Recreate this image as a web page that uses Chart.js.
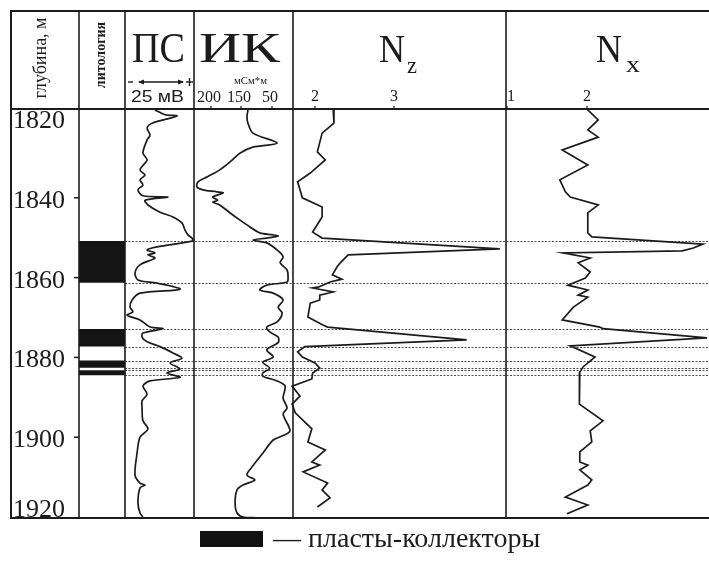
<!DOCTYPE html>
<html>
<head>
<meta charset="utf-8">
<title>Каротаж 1820–1920 м</title>
<script src="https://cdn.jsdelivr.net/npm/chart.js@4.4.1/dist/chart.umd.min.js"></script>
<style>
  html, body { margin: 0; padding: 0; background: #fff; }
  canvas { display: block; }
</style>
</head>
<body>
<canvas id="log" width="709" height="564"></canvas>
<script>
// ---- data -------------------------------------------------------------
// depth ticks, m
const depthTicks = [1820, 1840, 1860, 1880, 1900, 1920];

// collector beds (top / bottom depth, m)
const collectorTop    = [1850.8, 1872.9, 1880.8, 1883.2];
const collectorBottom = [1861.3, 1877.3, 1882.6, 1884.5];

// ПС (spontaneous potential), mV relative to track left edge
const psDepth = [1818.0,1819.2,1819.5,1821.3,1822.5,1824.3,1825.5,1828.8,1830.5,1833.0,1834.3,1835.5,1836.8,1838.0,1839.5,1839.8,1840.6,1841.8,1843.6,1844.8,1846.3,1848.1,1849.3,1850.1,1850.8,1852.3,1853.1,1853.8,1854.3,1855.1,1856.8,1858.8,1860.6,1861.4,1862.9,1863.9,1865.6,1867.4,1868.6,1869.4,1870.6,1872.4,1872.8,1873.9,1874.9,1876.1,1877.3,1878.9,1880.2,1881.4,1882.9,1883.9,1885.0,1885.9,1887.2,1889.2,1890.9,1892.7,1895.9,1897.9,1900.0,1904.0,1909.5,1911.5,1912.0,1912.7,1916.5,1919.0,1920.0];
const psMv    = [17.4,23.2,30.1,15.7,12.8,14.5,12.8,10.4,12.8,8.7,11.6,8.7,10.4,7.5,10.4,24.9,11.6,13.3,20.3,27.8,33.0,34.8,36.5,38.8,39.4,18.6,12.8,17.4,13.3,17.4,8.7,5.8,7.5,18.6,31.9,8.7,4.1,2.9,4.6,1.2,8.7,14.5,22.0,10.4,9.9,12.8,20.3,27.8,33.0,26.1,31.9,24.3,31.9,14.5,10.4,12.8,9.9,9.9,10.4,13.3,8.7,7.0,5.8,8.7,11.6,8.7,7.5,8.7,10.4];

// ИК (induction conductivity), mSm/m
const ikDepth = [1818.0,1819.7,1821.3,1823.8,1826.3,1827.3,1828.8,1831.0,1833.0,1834.8,1836.0,1837.3,1838.0,1838.5,1838.8,1839.8,1840.6,1841.1,1841.8,1843.8,1845.6,1847.3,1848.8,1849.3,1849.6,1850.1,1850.6,1851.3,1853.1,1854.8,1856.3,1858.1,1859.8,1861.1,1861.9,1863.1,1863.9,1865.6,1867.4,1868.9,1871.1,1872.4,1873.6,1874.9,1876.3,1878.1,1879.9,1881.2,1882.7,1883.9,1884.7,1885.9,1887.2,1890.2,1892.7,1894.2,1898.4,1899.6,1900.7,1904.0,1907.5,1909.5,1910.7,1912.0,1913.2,1916.5,1919.0,1920.0,1920.2];
const ikValue = [121,123,121,111,62,111,137,157,178,204,222,224,212,184,171,192,182,192,178,157,137,117,97,70,60,83,111,83,62,50,56,42,40,42,83,97,70,50,60,52,62,83,77,60,60,83,70,91,77,91,91,62,46,50,42,50,36,50,70,91,113,123,107,131,143,147,143,131,103];

// Nz
const nzDepth = [1817.8,1821.3,1823.8,1828.5,1830.5,1833.8,1836.0,1838.0,1840.0,1842.3,1844.8,1848.6,1850.1,1852.8,1854.3,1856.3,1857.3,1859.3,1860.4,1861.1,1862.4,1862.6,1863.6,1864.4,1865.6,1866.4,1869.9,1871.9,1872.4,1875.6,1877.3,1878.6,1879.9,1881.4,1882.7,1883.9,1885.4,1887.2,1889.7,1891.7,1893.9,1897.9,1901.2,1903.2,1906.2,1907.0,1908.7,1911.5,1913.2,1915.2,1917.5];
const nzValue = [2.23,2.24,2.09,2.03,2.13,1.94,1.78,1.81,1.84,2.09,2.09,1.97,2.09,4.34,2.42,2.32,2.28,2.22,2.34,2.19,2.04,1.97,2.23,2.06,2.06,1.94,1.91,2.10,2.16,3.92,1.87,1.78,1.84,2.00,2.06,1.97,1.96,1.71,1.81,1.71,1.75,1.96,1.91,2.13,1.96,2.06,1.85,2.16,2.09,2.19,2.03];

// Nx
const nxDepth = [1817.8,1820.5,1823.0,1824.8,1828.0,1831.8,1835.5,1838.5,1839.8,1841.8,1843.8,1848.8,1849.8,1851.6,1852.6,1853.3,1853.8,1855.1,1856.3,1858.6,1860.1,1861.9,1863.1,1864.4,1864.9,1867.4,1870.6,1872.4,1872.8,1875.1,1877.1,1879.9,1882.4,1883.7,1885.2,1891.7,1895.9,1898.4,1901.2,1903.7,1906.2,1907.0,1908.2,1910.7,1912.0,1915.0,1917.0,1919.2];
const nxValue = [2.00,2.14,2.01,2.14,1.69,2.01,1.66,1.73,1.79,2.14,2.01,2.01,2.06,3.45,3.33,3.19,1.70,2.04,1.89,2.04,1.98,1.76,2.01,1.89,2.01,1.83,1.69,2.16,2.20,3.50,1.79,2.10,1.95,1.91,1.91,1.90,2.20,2.04,2.06,1.91,1.91,2.01,1.91,2.06,2.01,1.73,2.01,1.75];

// header tick labels
const ikTickLabels = ['200', '150', '50'];
const nzTicks = [2, 3];
const nxTicks = [1, 2];

// ---- layout -----------------------------------------------------------
const ink = '#1c1c1c';
const L = {
  top: 11, head: 109, bottom: 518, left: 11, right: 709,
  cols: [79, 125, 194, 293, 506],
  ikLabelX: [209, 239, 270]
};
const depthMin = 1817.75, depthMax = 1920.25;

// each track maps two reference values (v0, v1) onto two pixel columns (p0, p1)
const tracks = {
  lith: { p0: 79,  v0: 0,   p1: 125, v1: 1 },
  ps:   { p0: 125, v0: 0,   p1: 194, v1: 40 },
  ik:   { p0: 194, v0: 230, p1: 293, v1: 30 },
  nz:   { p0: 315, v0: 2,   p1: 394, v1: 3 },
  nx:   { p0: 507, v0: 1,   p1: 587, v1: 2 }
};
function trackScale(t) {
  const k = (t.v1 - t.v0) / (t.p1 - t.p0);
  const a = t.v0 - (t.p0 - 0) * k;
  const b = t.v0 + (709 - t.p0) * k;
  return { type: 'linear', axis: 'x', position: 'bottom', display: false,
           reverse: k < 0, min: Math.min(a, b), max: Math.max(a, b) };
}

const series = (depths, values) => depths.map((d, i) => ({ x: values[i], y: d }));

const datasets = [];
collectorTop.forEach((top, i) => {
  datasets.push({
    xAxisID: 'lith', yAxisID: 'y', showLine: true,
    data: [{ x: 0, y: collectorBottom[i] }, { x: 1, y: collectorBottom[i] }],
    borderColor: 'rgba(0,0,0,0)', borderWidth: 1, pointRadius: 0,
    fill: { value: top }, backgroundColor: '#141414'
  });
});
const curve = (id, data, tension) => ({
  xAxisID: id, yAxisID: 'y', showLine: true, data, fill: false,
  borderColor: ink, borderWidth: 1.7, pointRadius: 0, tension
});
datasets.push(curve('ps', series(psDepth, psMv), 0.3));
datasets.push(curve('ik', series(ikDepth, ikValue), 0.3));
datasets.push(curve('nz', series(nzDepth, nzValue), 0));
datasets.push(curve('nx', series(nxDepth, nxValue), 0));

// ---- drawing helpers ----------------------------------------------------
function seg(c, x1, y1, x2, y2) { c.beginPath(); c.moveTo(x1, y1); c.lineTo(x2, y2); c.stroke(); }
function fitText(c, str, x, y, font, width) {
  c.save();
  c.font = font;
  const w = c.measureText(str).width;
  c.translate(x, y);
  if (width) c.scale(width / w, 1);
  c.textAlign = 'left';
  c.fillText(str, 0, 0);
  c.restore();
}
function vText(c, str, cx, cy, font) {
  c.save();
  c.font = font;
  c.translate(cx, cy);
  c.rotate(-Math.PI / 2);
  c.textAlign = 'center';
  c.textBaseline = 'middle';
  c.fillText(str, 0, 0);
  c.restore();
}

const logFrame = {
  id: 'logFrame',
  beforeDraw(chart) {
    const c = chart.ctx;
    c.save(); c.fillStyle = '#fff'; c.fillRect(0, 0, chart.width, chart.height); c.restore();
  },
  beforeDatasetsDraw(chart) {
    const c = chart.ctx, y = chart.scales.y;
    c.save();
    c.strokeStyle = '#4d4d4d'; c.lineWidth = 1; c.setLineDash([2, 1.5]);
    collectorTop.concat(collectorBottom).forEach(d => {
      const py = Math.round(y.getPixelForValue(d)) + 0.5;
      seg(c, L.cols[1], py, L.right, py);
    });
    c.restore();
  },
  afterDraw(chart) {
    const c = chart.ctx, y = chart.scales.y;
    c.save();
    c.strokeStyle = ink; c.fillStyle = ink;

    // table frame
    c.lineWidth = 2;
    seg(c, L.left, L.top, L.right, L.top);
    seg(c, L.left, L.head, L.right, L.head);
    seg(c, L.left - 1, L.bottom, L.right, L.bottom);
    seg(c, L.left, L.top - 1, L.left, L.bottom + 1);
    c.lineWidth = 1.6;
    L.cols.forEach(x => seg(c, x, L.top, x, L.bottom));

    // depth labels and ticks
    c.lineWidth = 1.5;
    c.textBaseline = 'alphabetic';
    depthTicks.forEach((d, i) => {
      const py = y.getPixelForValue(d);
      fitText(c, String(d), 13, Math.min(py + 10, L.bottom - 1), '26px "Liberation Serif"');
      if (i > 0 && i < depthTicks.length - 1) seg(c, 74, py, L.cols[0], py);
    });

    // column titles
    vText(c, 'глубина, м', 41, 58, '18px "Liberation Serif"');
    vText(c, 'литология', 101, 55, 'bold 14px "Liberation Serif"');
    fitText(c, 'ПС', 132, 62, '42px "Liberation Serif"', 53);
    fitText(c, 'ИК', 199, 62, '42px "Liberation Serif"', 81);
    fitText(c, 'N', 379, 62, '40px "Liberation Serif"', 26);
    fitText(c, 'z', 407, 73, '24px "Liberation Serif"', 10);
    fitText(c, 'N', 596, 62, '40px "Liberation Serif"', 26);
    fitText(c, 'x', 626, 72, '24px "Liberation Serif"', 14);

    // ПС scale bar
    c.lineWidth = 1.4;
    seg(c, 128, 82, 133, 82);
    seg(c, 139, 82, 183, 82);
    c.beginPath(); c.moveTo(138, 82); c.lineTo(144, 79.5); c.lineTo(144, 84.5); c.closePath(); c.fill();
    c.beginPath(); c.moveTo(184, 82); c.lineTo(178, 79.5); c.lineTo(178, 84.5); c.closePath(); c.fill();
    seg(c, 186, 82, 193, 82);
    seg(c, 189.5, 78, 189.5, 86);
    fitText(c, '25 мВ', 131, 102, '16px "Liberation Sans"', 53);

    // ИК scale
    fitText(c, 'мСм*м', 234, 84, '10px "Liberation Serif"', 33);
    c.font = '16px "Liberation Serif"';
    c.textAlign = 'center';
    c.lineWidth = 1.2;
    ikTickLabels.forEach((t, i) => {
      c.fillText(t, L.ikLabelX[i], 102);
      seg(c, L.ikLabelX[i] + 2, L.head - 3, L.ikLabelX[i] + 2, L.head);
    });

    // Nz / Nx scales
    const nz = chart.scales.nz, nx = chart.scales.nx;
    nzTicks.forEach(v => {
      const px = nz.getPixelForValue(v);
      c.fillText(String(v), Math.max(px, L.cols[3] + 6), 101);
      seg(c, px, L.head - 3, px, L.head);
    });
    nxTicks.forEach(v => {
      const px = nx.getPixelForValue(v);
      c.fillText(String(v), Math.max(px, L.cols[4] + 5), 101);
      seg(c, px, L.head - 3, px, L.head);
    });

    // legend
    c.fillStyle = '#111';
    c.fillRect(200, 531, 63, 16);
    c.fillStyle = ink;
    fitText(c, '— пласты-коллекторы', 273, 547, '28px "Liberation Serif"');
    c.restore();
  }
};

new Chart(document.getElementById('log'), {
  type: 'scatter',
  data: { datasets },
  options: {
    responsive: false,
    animation: false,
    devicePixelRatio: 1,
    events: [],
    layout: { padding: { left: 0, right: 0, top: L.head, bottom: 564 - L.bottom } },
    plugins: { legend: { display: false }, tooltip: { enabled: false } },
    scales: {
      y: { type: 'linear', axis: 'y', display: false, reverse: true, min: depthMin, max: depthMax },
      lith: trackScale(tracks.lith),
      ps: trackScale(tracks.ps),
      ik: trackScale(tracks.ik),
      nz: trackScale(tracks.nz),
      nx: trackScale(tracks.nx)
    }
  },
  plugins: [logFrame]
});
</script>
</body>
</html>
